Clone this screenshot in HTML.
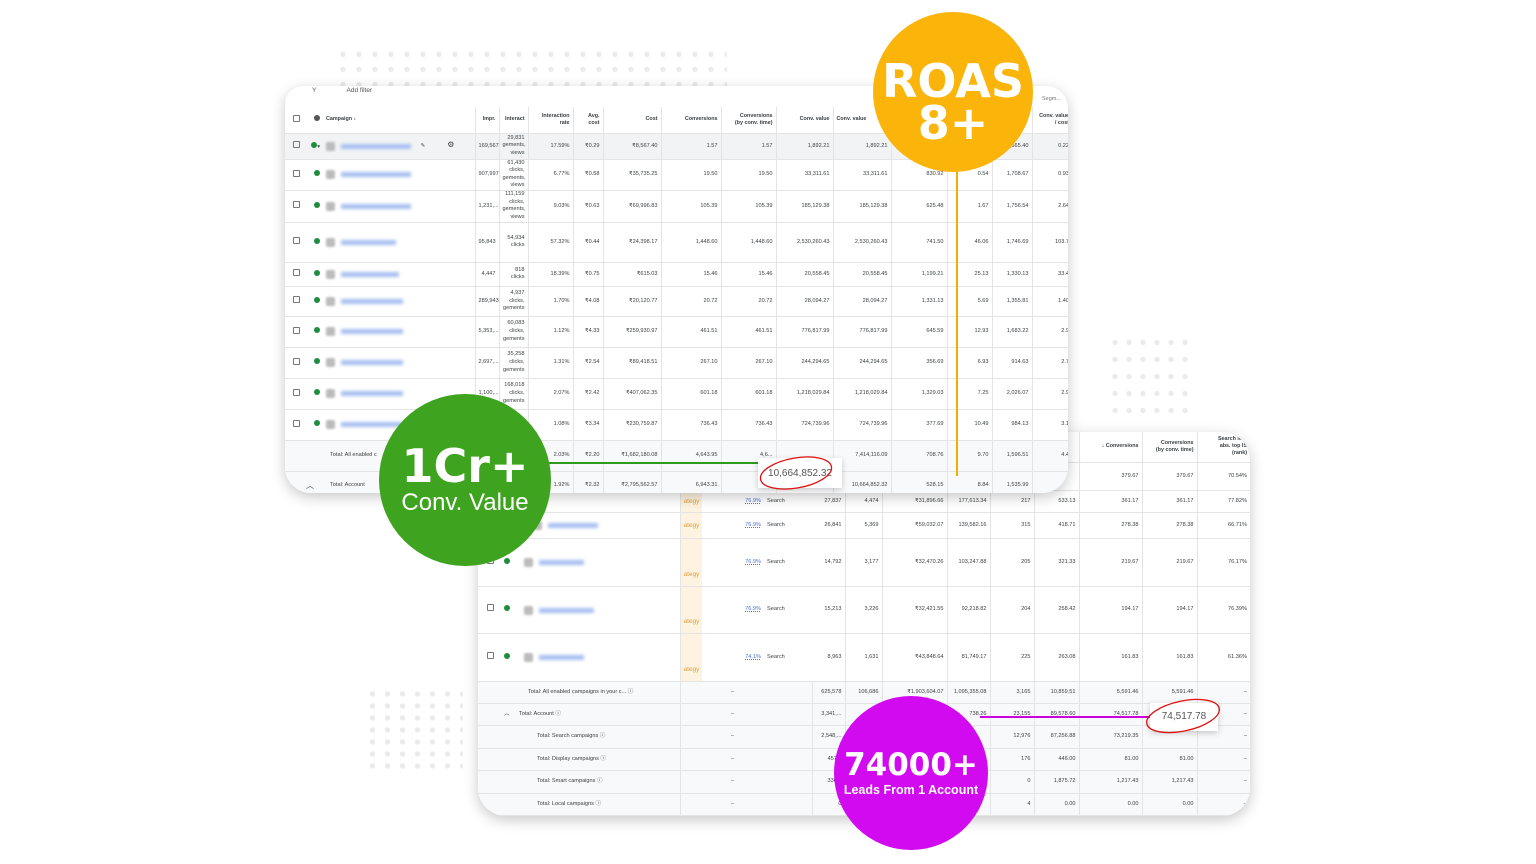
<!DOCTYPE html>
<html><head><meta charset="utf-8">
<style>
*{margin:0;padding:0;box-sizing:border-box}
body{width:1536px;height:864px;background:#fff;position:relative;overflow:hidden;font-family:"Liberation Sans",sans-serif;color:#3c4043}
.abs{position:absolute}
.card{position:absolute;background:#fff;overflow:hidden;box-shadow:0 4px 14px rgba(0,0,0,.22)}
table{border-collapse:collapse;table-layout:fixed;font-size:5.6px;line-height:7px}
td{border-bottom:1px solid #e4e4e4;text-align:right;padding:0 3px;vertical-align:middle;overflow:hidden;white-space:nowrap}
td.l{text-align:left}
td.w{white-space:normal;line-height:7.6px}
th{font-weight:bold;font-size:5.4px;text-align:right;padding:0 3px;border-bottom:1px solid #e4e4e4;color:#3c4043;line-height:7px}
.cb{display:inline-block;width:7px;height:7px;border:1px solid #777;border-radius:1px}
.gd{display:inline-block;width:6px;height:6px;border-radius:50%;background:#1e8e3e}
.ic{display:inline-block;width:9px;height:9px;background:#bbb;border-radius:2px;filter:blur(1px);vertical-align:middle}
.bl{display:inline-block;width:70px;height:5px;background:#a8bff0;filter:blur(1.5px);vertical-align:middle;margin-left:6px}
.vs{border-right:1px solid #e4e4e4}
.dots{position:absolute;background-image:radial-gradient(circle,#ebebeb 2.4px,transparent 2.9px)}
.circ{position:absolute;border-radius:50%;color:#fff;text-align:center;font-weight:bold}
.ate{color:#e3a23b;background:#fdf3e0;font-size:6.5px}
.pc{color:#4a72d8;text-decoration:underline dotted}
</style></head><body>

<div class="dots" style="left:335px;top:47px;width:392px;height:45px;background-size:16px 15px"></div>
<div class="dots" style="left:1108px;top:334px;width:84px;height:84px;background-size:14px 17px"></div>
<div class="dots" style="left:365px;top:688px;width:98px;height:84px;background-size:15px 12px"></div>

<!-- BACK CARD -->
<div class="card" style="left:478px;top:432px;width:772px;height:384px;border-radius:0 28px 28px 28px">
<table class="abs" style="left:0;top:0;width:772px">
<colgroup><col style="width:202px"><col style="width:22px"><col style="width:35px"><col style="width:27px"><col style="width:48px"><col style="width:33px"><col style="width:37px"><col style="width:65px"><col style="width:43px"><col style="width:44px"><col style="width:45px"><col style="width:63px"><col style="width:55px"><col style="width:53px"></colgroup>
<tr style="height:30px"><td></td><td></td><td></td><td></td><td></td><td></td><td></td><td></td><td></td><td></td><td class="vs"></td><th class="vs">↓ Conversions</th><th class="vs">Conversions<br>(by conv. time)</th><th>Search lost<br>abs. top IS<br>(rank)</th></tr>
<tr style="height:28px"><td></td><td></td><td></td><td></td><td></td><td></td><td></td><td></td><td></td><td></td><td class="vs"></td><td class="vs">379.67</td><td class="vs">379.67</td><td>70.54%</td></tr>
<tr style="height:22px"><td class="l vs"></td><td class="ate l">ategy</td><td></td><td class="pc">76.9%</td><td class="l">Search</td><td class="vs">27,837</td><td class="vs">4,474</td><td class="vs">₹31,896.66</td><td class="vs">177,613.34</td><td class="vs">217</td><td class="vs">533.13</td><td class="vs">361.17</td><td class="vs">361.17</td><td>77.82%</td></tr>
<tr style="height:26px"><td class="l vs"><span class="ic" style="margin-left:52px"></span><span class="bl" style="width:50px"></span></td><td class="ate l">ategy</td><td></td><td class="pc">76.9%</td><td class="l">Search</td><td class="vs">26,841</td><td class="vs">5,369</td><td class="vs">₹59,032.07</td><td class="vs">139,582.16</td><td class="vs">315</td><td class="vs">418.71</td><td class="vs">278.38</td><td class="vs">278.38</td><td>66.71%</td></tr>
<tr style="height:48px"><td class="l vs"><span class="cb" style="margin-left:6px"></span> <span class="gd" style="margin-left:8px"></span><span class="ic" style="margin-left:14px"></span><span class="bl" style="width:45px"></span></td><td class="ate l" style="vertical-align:bottom;padding-bottom:8px">ategy</td><td></td><td class="pc">76.9%</td><td class="l">Search</td><td class="vs">14,792</td><td class="vs">3,177</td><td class="vs">₹32,470.26</td><td class="vs">103,247.88</td><td class="vs">205</td><td class="vs">321.33</td><td class="vs">219.67</td><td class="vs">219.67</td><td>76.17%</td></tr>
<tr style="height:47px"><td class="l vs"><span class="cb" style="margin-left:6px"></span> <span class="gd" style="margin-left:8px"></span><span class="ic" style="margin-left:14px"></span><span class="bl" style="width:55px"></span></td><td class="ate l" style="vertical-align:bottom;padding-bottom:8px">ategy</td><td></td><td class="pc">76.9%</td><td class="l">Search</td><td class="vs">15,213</td><td class="vs">3,226</td><td class="vs">₹32,421.55</td><td class="vs">92,218.82</td><td class="vs">204</td><td class="vs">258.42</td><td class="vs">194.17</td><td class="vs">194.17</td><td>76.39%</td></tr>
<tr style="height:48px"><td class="l vs"><span class="cb" style="margin-left:6px"></span> <span class="gd" style="margin-left:8px"></span><span class="ic" style="margin-left:14px"></span><span class="bl" style="width:45px"></span></td><td class="ate l" style="vertical-align:bottom;padding-bottom:8px">ategy</td><td></td><td class="pc">74.1%</td><td class="l">Search</td><td class="vs">8,963</td><td class="vs">1,631</td><td class="vs">₹43,848.64</td><td class="vs">81,749.17</td><td class="vs">225</td><td class="vs">263.08</td><td class="vs">161.83</td><td class="vs">161.83</td><td>61.36%</td></tr>
<tr style="height:22px;background:#f8f9fa"><td class="l vs" style="padding-left:50px">Total: All enabled campaigns in your c... ⓘ</td><td></td><td>–</td><td></td><td class="vs"></td><td class="vs">625,578</td><td class="vs">106,686</td><td class="vs">₹1,903,604.07</td><td class="vs">1,095,355.08</td><td class="vs">3,165</td><td class="vs">10,859.51</td><td class="vs">5,591.46</td><td class="vs">5,591.46</td><td>–</td></tr>
<tr style="height:22px;background:#f8f9fa"><td class="l vs" style="padding-left:26px">︿ &nbsp; &nbsp; &nbsp;Total: Account ⓘ</td><td></td><td>–</td><td></td><td class="vs"></td><td class="vs">3,341,...</td><td class="vs"></td><td class="vs"></td><td class="vs">738.26</td><td class="vs">23,155</td><td class="vs">89,578.60</td><td class="vs">74,517.78</td><td class="vs"></td><td>–</td></tr>
<tr style="height:23px;background:#f8f9fa"><td class="l vs" style="padding-left:59px">Total: Search campaigns ⓘ</td><td></td><td>–</td><td></td><td class="vs"></td><td class="vs">2,548,...</td><td class="vs"></td><td class="vs"></td><td class="vs"></td><td class="vs">12,976</td><td class="vs">87,256.88</td><td class="vs">73,219.35</td><td class="vs"></td><td>–</td></tr>
<tr style="height:22px;background:#f8f9fa"><td class="l vs" style="padding-left:59px">Total: Display campaigns ⓘ</td><td></td><td>–</td><td></td><td class="vs"></td><td class="vs">457,5</td><td class="vs"></td><td class="vs"></td><td class="vs"></td><td class="vs">176</td><td class="vs">446.00</td><td class="vs">81.00</td><td class="vs">81.00</td><td>–</td></tr>
<tr style="height:23px;background:#f8f9fa"><td class="l vs" style="padding-left:59px">Total: Smart campaigns ⓘ</td><td></td><td>–</td><td></td><td class="vs"></td><td class="vs">336,0</td><td class="vs"></td><td class="vs"></td><td class="vs"></td><td class="vs">0</td><td class="vs">1,875.72</td><td class="vs">1,217.43</td><td class="vs">1,217.43</td><td>–</td></tr>
<tr style="height:22px;background:#f8f9fa"><td class="l vs" style="padding-left:59px">Total: Local campaigns ⓘ</td><td></td><td>–</td><td></td><td class="vs"></td><td class="vs">0</td><td class="vs"></td><td class="vs"></td><td class="vs"></td><td class="vs">4</td><td class="vs">0.00</td><td class="vs">0.00</td><td class="vs">0.00</td><td>–</td></tr>
</table>
</div>

<!-- FRONT CARD -->
<div class="card" style="left:285px;top:86px;width:783px;height:407px;border-radius:18px 22px 26px 26px">
<div class="abs" style="left:27px;top:1px;font-size:6.5px;color:#555">Y &nbsp; &nbsp; &nbsp; &nbsp; &nbsp; &nbsp; &nbsp; &nbsp; Add filter</div>
<div class="abs" style="left:757px;top:10px;font-size:5.5px;color:#777">Segm...</div>
<table class="abs" style="left:0;top:21px;width:787px">
<colgroup><col style="width:18px"><col style="width:20px"><col style="width:152px"><col style="width:24px"><col style="width:29px"><col style="width:45px"><col style="width:30px"><col style="width:58px"><col style="width:60px"><col style="width:55px"><col style="width:57px"><col style="width:58px"><col style="width:56px"><col style="width:45px"><col style="width:40px"><col style="width:40px"></colgroup>
<tr style="height:26px"><td><span class="cb"></span></td><td><span class="gd" style="background:#555"></span></td><th class="vs" style="text-align:left">Campaign ↓</th><th class="vs">Impr.</th><th class="vs">Interact</th><th class="vs">Interaction<br>rate</th><th class="vs">Avg.<br>cost</th><th class="vs">Cost</th><th class="vs">Conversions</th><th class="vs">Conversions<br>(by conv. time)</th><th class="vs">Conv. value</th><th class="vs" style="text-align:left">Conv. value</th><th class="vs"></th><th class="vs"></th><th class="vs"></th><th>Conv. value<br>/ cost</th></tr>
<tr style="height:26px;background:#f1f3f4"><td><span class="cb"></span></td><td><span class="gd"></span>▾</td><td class="l vs"><span class="ic"></span><span class="bl"></span> <span style="margin-left:8px">✎</span><span style="margin-left:22px;font-size:8px">⚙</span></td><td class="vs">169,567</td><td class="w vs">29,831 gements, views</td><td class="vs">17.59%</td><td class="vs">₹0.29</td><td class="vs">₹8,567.40</td><td class="vs">1.57</td><td class="vs">1.57</td><td class="vs">1,892.21</td><td class="vs">1,892.21</td><td class="vs"></td><td class="vs"></td><td class="vs">1,665.40</td><td>0.22</td></tr>
<tr style="height:29px"><td><span class="cb"></span></td><td><span class="gd"></span></td><td class="l vs"><span class="ic"></span><span class="bl"></span></td><td class="vs">907,997</td><td class="w vs">61,430 clicks, gements, views</td><td class="vs">6.77%</td><td class="vs">₹0.58</td><td class="vs">₹35,735.25</td><td class="vs">19.50</td><td class="vs">19.50</td><td class="vs">33,311.61</td><td class="vs">33,311.61</td><td class="vs">830.92</td><td class="vs">0.54</td><td class="vs">1,708.67</td><td>0.93</td></tr>
<tr style="height:32px"><td><span class="cb"></span></td><td><span class="gd"></span></td><td class="l vs"><span class="ic"></span><span class="bl"></span></td><td class="vs">1,231,...</td><td class="w vs">111,159 clicks, gements, views</td><td class="vs">9.03%</td><td class="vs">₹0.63</td><td class="vs">₹69,996.83</td><td class="vs">105.39</td><td class="vs">105.39</td><td class="vs">185,129.38</td><td class="vs">185,129.38</td><td class="vs">625.48</td><td class="vs">1.67</td><td class="vs">1,756.54</td><td>2.64</td></tr>
<tr style="height:40px"><td><span class="cb"></span></td><td><span class="gd"></span></td><td class="l vs"><span class="ic"></span><span class="bl" style="width:55px"></span></td><td class="vs">95,843</td><td class="w vs">54,934 clicks</td><td class="vs">57.32%</td><td class="vs">₹0.44</td><td class="vs">₹24,398.17</td><td class="vs">1,448.60</td><td class="vs">1,448.60</td><td class="vs">2,530,260.43</td><td class="vs">2,530,260.43</td><td class="vs">741.50</td><td class="vs">46.06</td><td class="vs">1,746.69</td><td>103.7</td></tr>
<tr style="height:24px"><td><span class="cb"></span></td><td><span class="gd"></span></td><td class="l vs"><span class="ic"></span><span class="bl" style="width:58px"></span></td><td class="vs">4,447</td><td class="w vs">818 clicks</td><td class="vs">18.39%</td><td class="vs">₹0.75</td><td class="vs">₹615.03</td><td class="vs">15.46</td><td class="vs">15.46</td><td class="vs">20,558.45</td><td class="vs">20,558.45</td><td class="vs">1,199.21</td><td class="vs">25.13</td><td class="vs">1,330.13</td><td>33.4</td></tr>
<tr style="height:30px"><td><span class="cb"></span></td><td><span class="gd"></span></td><td class="l vs"><span class="ic"></span><span class="bl" style="width:62px"></span></td><td class="vs">289,943</td><td class="w vs">4,937 clicks, gements</td><td class="vs">1.70%</td><td class="vs">₹4.08</td><td class="vs">₹20,120.77</td><td class="vs">20.72</td><td class="vs">20.72</td><td class="vs">28,094.27</td><td class="vs">28,094.27</td><td class="vs">1,331.13</td><td class="vs">5.69</td><td class="vs">1,355.81</td><td>1.40</td></tr>
<tr style="height:31px"><td><span class="cb"></span></td><td><span class="gd"></span></td><td class="l vs"><span class="ic"></span><span class="bl" style="width:62px"></span></td><td class="vs">5,353,...</td><td class="w vs">60,083 clicks, gements</td><td class="vs">1.12%</td><td class="vs">₹4.33</td><td class="vs">₹259,930.97</td><td class="vs">461.51</td><td class="vs">461.51</td><td class="vs">776,817.99</td><td class="vs">776,817.99</td><td class="vs">645.59</td><td class="vs">12.93</td><td class="vs">1,683.22</td><td>2.9</td></tr>
<tr style="height:31px"><td><span class="cb"></span></td><td><span class="gd"></span></td><td class="l vs"><span class="ic"></span><span class="bl" style="width:62px"></span></td><td class="vs">2,697,...</td><td class="w vs">35,258 clicks, gements</td><td class="vs">1.31%</td><td class="vs">₹2.54</td><td class="vs">₹89,418.51</td><td class="vs">267.10</td><td class="vs">267.10</td><td class="vs">244,294.65</td><td class="vs">244,294.65</td><td class="vs">356.69</td><td class="vs">6.93</td><td class="vs">914.63</td><td>2.7</td></tr>
<tr style="height:31px"><td><span class="cb"></span></td><td><span class="gd"></span></td><td class="l vs"><span class="ic"></span><span class="bl" style="width:62px"></span></td><td class="vs">1,100,...</td><td class="w vs">168,018 clicks, gements</td><td class="vs">2.07%</td><td class="vs">₹2.42</td><td class="vs">₹407,062.35</td><td class="vs">601.18</td><td class="vs">601.18</td><td class="vs">1,218,029.84</td><td class="vs">1,218,029.84</td><td class="vs">1,329.03</td><td class="vs">7.25</td><td class="vs">2,026.07</td><td>2.9</td></tr>
<tr style="height:31px"><td><span class="cb"></span></td><td><span class="gd"></span></td><td class="l vs"><span class="ic"></span><span class="bl" style="width:62px"></span></td><td class="vs">7,...</td><td class="w vs">73,...</td><td class="vs">1.08%</td><td class="vs">₹3.34</td><td class="vs">₹230,759.87</td><td class="vs">736.43</td><td class="vs">736.43</td><td class="vs">724,739.96</td><td class="vs">724,739.96</td><td class="vs">377.69</td><td class="vs">10.49</td><td class="vs">984.13</td><td>3.1</td></tr>
<tr style="height:31px;background:#f8f9fa"><td></td><td></td><td class="l vs" style="padding-left:7px">Total: All enabled c</td><td class="vs"></td><td class="vs"></td><td class="vs">2.03%</td><td class="vs">₹2.20</td><td class="vs">₹1,682,180.08</td><td class="vs">4,643.95</td><td class="vs">4,6...</td><td class="vs"></td><td class="vs">7,414,116.09</td><td class="vs">708.76</td><td class="vs">9.70</td><td class="vs">1,596.51</td><td>4.4</td></tr>
<tr style="height:28px;background:#f8f9fa"><td></td><td class="l" style="font-size:8px">︿</td><td class="l vs" style="padding-left:7px">Total: Account</td><td class="vs"></td><td class="vs"></td><td class="vs">1.92%</td><td class="vs">₹2.32</td><td class="vs">₹2,795,562.57</td><td class="vs">6,943.31</td><td class="vs">6,9</td><td class="vs"></td><td class="vs">10,664,852.32</td><td class="vs">528.15</td><td class="vs">8.84</td><td class="vs">1,535.99</td><td>9</td></tr>
</table>
</div>

<!-- lines -->
<div class="abs" style="left:545px;top:462px;width:252px;height:2px;background:#2e9b1e"></div>
<div class="abs" style="left:956px;top:160px;width:2px;height:316px;background:#f5ad00"></div>
<div class="abs" style="left:980px;top:716px;width:180px;height:2px;background:#cc00dd"></div>

<!-- callouts -->
<div class="abs" style="left:758px;top:458px;width:84px;height:30px;background:#fff;box-shadow:0 2px 6px rgba(0,0,0,.2);font-size:10px;color:#555;line-height:32px;text-align:center">10,664,852.32</div>
<svg class="abs" style="left:755px;top:450px" width="95" height="45"><ellipse cx="41" cy="23" rx="36" ry="15" fill="none" stroke="#e01010" stroke-width="1.3" transform="rotate(-10 41 23)"/></svg>
<div class="abs" style="left:1150px;top:703px;width:68px;height:28px;background:#fff;box-shadow:0 2px 6px rgba(0,0,0,.2);font-size:10px;color:#555;line-height:28px;text-align:center">74,517.78</div>
<svg class="abs" style="left:1140px;top:692px" width="90" height="50"><ellipse cx="43" cy="24" rx="37" ry="15" fill="none" stroke="#e01010" stroke-width="1.3" transform="rotate(-12 43 24)"/></svg>

<!-- circles -->
<div class="circ" style="left:873px;top:12px;width:160px;height:160px;background:#fbb40a">
<div style="font-size:46px;line-height:44px;margin-top:47px;font-family:'DejaVu Sans','Liberation Sans',sans-serif">ROAS</div>
<div style="font-size:46px;line-height:40px;font-family:'DejaVu Sans','Liberation Sans',sans-serif">8+</div></div>
<div class="circ" style="left:379px;top:394px;width:172px;height:172px;background:#3ea31e">
<div style="font-size:46px;line-height:46px;margin-top:49px;font-family:'DejaVu Sans','Liberation Sans',sans-serif">1Cr+</div>
<div style="font-size:24px;font-weight:normal;line-height:28px">Conv. Value</div></div>
<div class="circ" style="left:834px;top:696px;width:154px;height:154px;background:#d20af0">
<div style="font-size:31px;line-height:36px;margin-top:51px;font-family:'DejaVu Sans','Liberation Sans',sans-serif">74000+</div>
<div style="font-size:12.5px;line-height:14px">Leads From 1 Account</div></div>

</body></html>
